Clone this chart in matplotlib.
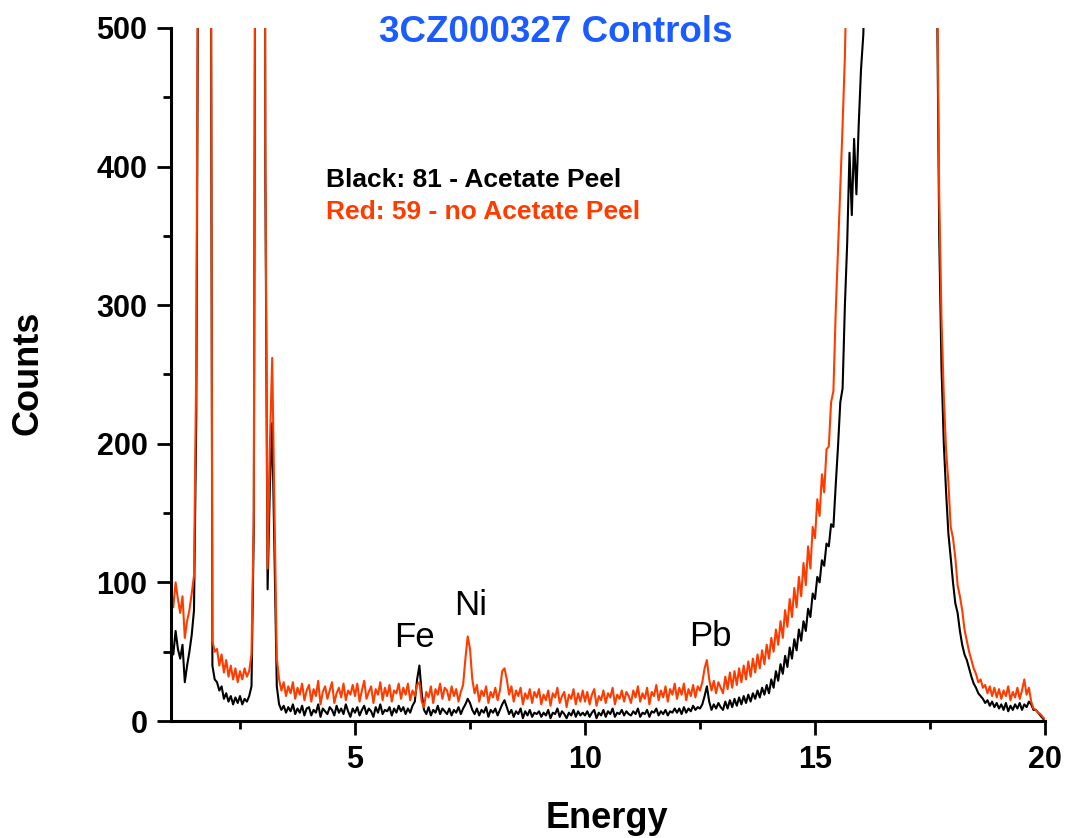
import numpy as np
import matplotlib
matplotlib.use('Agg')
from matplotlib import pyplot as plt
from matplotlib.ticker import MultipleLocator

plt.rcParams['font.family'] = ['Liberation Sans', 'DejaVu Sans']

# channel energies, 0.05 keV steps from 1 to 20
energy = np.round(np.arange(1.0, 20.0001, 0.05), 2)

# black: 81 - Acetate Peel (one row per keV)
black_counts = [
    60, 48, 65, 52, 45, 55, 28, 40, 50, 62, 80, 220, 650, 1500, 2000, 1800, 1500, 850, 40, 30,
    28, 22, 25, 16, 20, 14, 18, 12, 17, 13, 18, 12, 16, 14, 18, 25, 140, 850, 2500, 3000,
    1500, 400, 95, 170, 215, 120, 25, 12, 8, 11, 6, 10, 7, 12, 5, 9, 6, 11, 4, 9,
    10, 4, 8, 6, 12, 3, 9, 7, 5, 10, 8, 4, 11, 6, 9, 5, 12, 7, 3, 9,
    6, 10, 4, 8, 11, 5, 9, 7, 3, 10, 6, 12, 5, 8, 7, 10, 4, 9, 6, 11,
    7, 10, 5, 9, 6, 11, 14, 30, 40, 20, 8, 5, 10, 4, 8, 6, 11, 5, 9, 7,
    5, 9, 4, 8, 6, 10, 5, 9, 12, 16, 13, 8, 5, 9, 4, 8, 6, 10, 3, 8,
    6, 9, 4, 8, 12, 15, 10, 5, 8, 3, 7, 5, 9, 2, 7, 4, 8, 3, 6, 5,
    7, 3, 6, 4, 8, 2, 6, 5, 9, 3, 7, 5, 2, 6, 4, 8, 3, 7, 4, 6,
    4, 7, 3, 6, 8, 2, 6, 4, 8, 3, 7, 5, 9, 3, 6, 5, 8, 4, 7, 5,
    4, 7, 5, 9, 3, 6, 5, 8, 3, 7, 6, 9, 4, 7, 5, 8, 4, 7, 6, 9,
    6, 9, 5, 10, 6, 9, 7, 11, 8, 10, 9, 12, 18, 25, 14, 8, 12, 9, 13, 10,
    8, 14, 9, 15, 10, 16, 11, 17, 12, 18, 13, 19, 14, 20, 16, 22, 17, 24, 19, 26,
    20, 30, 24, 36, 29, 41, 34, 47, 39, 53, 45, 59, 51, 66, 58, 72, 65, 81, 75, 92,
    88, 104, 100, 116, 112, 128, 126, 142, 140, 170, 198, 230, 240, 300, 345, 410, 365, 420, 380, 430,
    470, 495, 560, 680, 850, 1100, 1500, 2600, 3000, 3500, 4000, 4500, 5000, 5500, 6000, 6200, 6000, 5600, 5200, 4800,
    4400, 4000, 3600, 3200, 3000, 2800, 2600, 2400, 2300, 2150, 2000, 1400, 900, 540, 350, 255, 200, 165, 135, 118,
    100, 85, 78, 65, 55, 48, 44, 38, 32, 27, 24, 20, 18, 16, 13, 15, 11, 14, 10, 13,
    9, 12, 8, 13, 7, 11, 8, 12, 9, 13, 8, 12, 10, 14, 12, 8, 8, 6, 4, 2,
    0,
]

# red: 59 - no Acetate Peel
red_counts = [
    95, 82, 100, 88, 78, 90, 60, 72, 80, 92, 105, 260, 700, 1500, 2000, 1800, 1500, 900, 58, 50,
    52, 40, 48, 35, 44, 32, 40, 30, 38, 28, 36, 30, 38, 32, 36, 48, 150, 900, 2500, 3000,
    1500, 420, 110, 200, 262, 150, 45, 30, 22, 28, 18, 25, 20, 28, 16, 24, 19, 27, 15, 22,
    26, 14, 23, 18, 29, 12, 21, 25, 16, 22, 28, 13, 20, 24, 17, 27, 15, 22, 19, 26,
    18, 27, 14, 22, 29, 16, 21, 25, 13, 23, 19, 28, 15, 24, 18, 26, 14, 22, 20, 27,
    16, 24, 19, 27, 15, 22, 18, 26, 28, 14, 10, 21, 17, 25, 13, 23, 19, 27, 16, 24,
    22, 15, 25, 18, 23, 14, 21, 26, 45, 61, 52, 30, 20, 26, 14, 22, 18, 25, 13, 21,
    17, 24, 15, 22, 36, 38, 30, 19, 25, 14, 22, 18, 24, 12, 20, 16, 23, 13, 21, 17,
    23, 12, 19, 15, 22, 11, 20, 17, 24, 13, 18, 21, 10, 19, 16, 23, 12, 20, 14, 22,
    14, 21, 12, 19, 23, 11, 18, 15, 22, 13, 20, 17, 24, 12, 19, 16, 22, 14, 21, 18,
    13, 22, 17, 25, 14, 20, 16, 24, 12, 21, 18, 26, 15, 22, 17, 25, 14, 23, 19, 27,
    16, 24, 19, 27, 15, 23, 18, 26, 17, 25, 22, 28, 38, 44, 30, 22, 29, 20, 28, 24,
    20, 32, 23, 35, 24, 36, 26, 38, 28, 40, 30, 43, 32, 45, 35, 48, 38, 51, 41, 55,
    45, 60, 50, 66, 55, 72, 60, 80, 68, 88, 75, 96, 82, 104, 90, 114, 98, 126, 110, 140,
    132, 160, 148, 178, 165, 196, 198, 230, 238, 295, 340, 385, 430, 480, 560, 650, 750, 850, 950, 1050,
    1150, 1300, 1450, 1600, 1800, 2000, 2300, 2600, 3000, 3500, 4000, 4500, 5000, 5500, 6000, 6200, 6000, 5600, 5200, 4800,
    4400, 4000, 3600, 3200, 3000, 2800, 2600, 2400, 2300, 2150, 2000, 1400, 900, 560, 380, 290, 235, 195, 172, 140,
    132, 118, 98, 90, 80, 66, 58, 50, 44, 38, 34, 28, 30, 24, 26, 20, 25, 18, 24, 17,
    23, 16, 22, 18, 25, 15, 21, 17, 24, 16, 22, 30, 19, 24, 14, 9, 8, 6, 5, 3,
    1,
]

peak_labels = ['Fe', 'Ni', 'Pb']
peak_label_x = [6.30, 7.52, 12.72]
peak_label_y = [60, 83, 61]

red = '#ff3c00'

fig = plt.figure(figsize=(10.65, 8.38), dpi=100)
ax = fig.add_axes([171 / 1065, 1 - 721 / 838, (1045 - 171) / 1065, (721 - 28) / 838])

ax.plot(energy, black_counts, color='black', lw=1.5)
ax.plot(energy, red_counts, color=red, lw=1.5)

ax.set_xlim(1, 20)
ax.set_ylim(0, 500)
ax.xaxis.set_major_locator(MultipleLocator(5))
ax.xaxis.set_minor_locator(MultipleLocator(2.5))
ax.yaxis.set_major_locator(MultipleLocator(100))
ax.yaxis.set_minor_locator(MultipleLocator(50))

for side in ['top', 'right']:
    ax.spines[side].set_visible(False)
for side in ['left', 'bottom']:
    ax.spines[side].set_linewidth(2.2)

ax.tick_params(which='major', length=10, width=2, pad=7, labelsize=22)
ax.tick_params(which='minor', length=6, width=2)
for lab in ax.get_xticklabels() + ax.get_yticklabels():
    lab.set_fontweight('bold')

for name, px, py in zip(peak_labels, peak_label_x, peak_label_y):
    ax.text(px, py, name, fontsize=25, ha='center', va='center')

fig.text(556 / 1065, 1 - 33 / 838, '3CZ000327 Controls', color='#1a5cff',
         fontsize=26.5, fontweight='bold', ha='center', va='center')
fig.text(326 / 1065, 1 - 180 / 838, 'Black: 81 - Acetate Peel', color='black',
         fontsize=19, fontweight='bold', ha='left', va='center')
fig.text(326 / 1065, 1 - 212 / 838, 'Red: 59 - no Acetate Peel', color=red,
         fontsize=19, fontweight='bold', ha='left', va='center')

fig.text(607 / 1065, 1 - 818 / 838, 'Energy', fontsize=26, fontweight='bold',
         ha='center', va='center')
fig.text(28 / 1065, 1 - 373 / 838, 'Counts', fontsize=26, fontweight='bold',
         ha='center', va='center', rotation=90)

fig.savefig('out.png', dpi=100)
